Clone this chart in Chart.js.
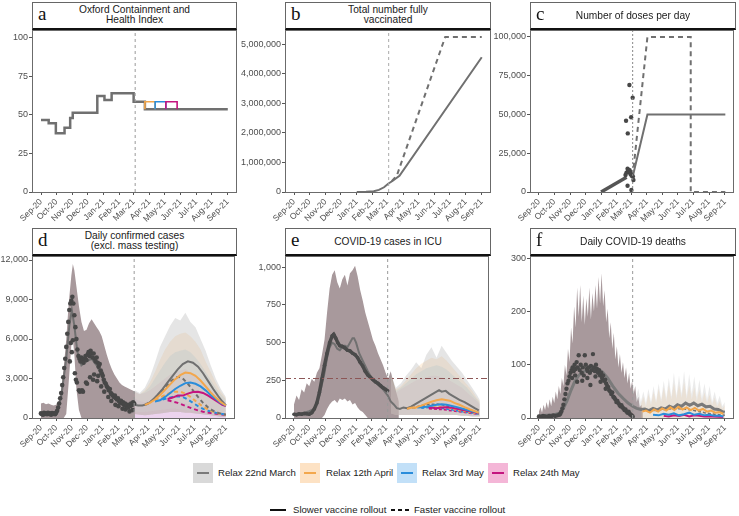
<!DOCTYPE html>
<html>
<head>
<meta charset="utf-8">
<script src="https://cdn.jsdelivr.net/npm/chart.js@4/dist/chart.umd.min.js"></script>
<style>
  body { margin: 0; background: #fff; width: 739px; height: 516px; position: relative; overflow: hidden;
         font-family: "Liberation Sans", Arial, Helvetica, sans-serif; }
  canvas { position: absolute; }
  .strip { position: absolute; box-sizing: border-box; height: 28px; border: 1px solid #666;
           border-bottom: 2px solid #111; background: #fff; }
  .strip .tag { position: absolute; left: 5px; top: -1px; font-family: "Liberation Serif", "DejaVu Serif", serif;
                font-size: 19px; line-height: 24px; color: #111; }
  .strip .ttl { position: absolute; left: 0; right: 0; top: 50%; transform: translateY(-50%); text-align: center;
                font-size: 10.2px; line-height: 10.8px; color: #1a1a1a; }
  .kbox { position: absolute; top: 463px; width: 20px; height: 20px; }
  .kbox i { position: absolute; left: 4px; right: 4px; top: 9px; height: 2px; }
  .ktxt { position: absolute; font-size: 9.6px; line-height: 14px; color: #222; white-space: nowrap; }
  .seg { position: absolute; height: 2px; background: #111; }
</style>
</head>
<body>

<div class="strip" style="left:32px;top:2px;width:205px"><span class="tag">a</span><div class="ttl">Oxford Containment and<br>Health Index</div></div>
<div class="strip" style="left:285px;top:2px;width:206px"><span class="tag">b</span><div class="ttl">Total number fully<br>vaccinated</div></div>
<div class="strip" style="left:530px;top:2px;width:206px"><span class="tag">c</span><div class="ttl">Number of doses per day</div></div>
<div class="strip" style="left:32px;top:228px;width:205px"><span class="tag">d</span><div class="ttl">Daily confirmed cases<br>(excl. mass testing)</div></div>
<div class="strip" style="left:285px;top:228px;width:206px"><span class="tag">e</span><div class="ttl">COVID-19 cases in ICU</div></div>
<div class="strip" style="left:530px;top:228px;width:206px"><span class="tag">f</span><div class="ttl">Daily COVID-19 deaths</div></div>

<div class="kbox" style="left:193px;background:#d9d9d9"><i style="background:#7a7a7a"></i></div>
<div class="ktxt" style="left:218px;top:466px">Relax 22nd March</div>
<div class="kbox" style="left:300px;background:#fde2c4"><i style="background:#f3a74c"></i></div>
<div class="ktxt" style="left:326px;top:466px">Relax 12th April</div>
<div class="kbox" style="left:397px;background:#c2e0f8"><i style="background:#2a8ddb"></i></div>
<div class="ktxt" style="left:422px;top:466px">Relax 3rd May</div>
<div class="kbox" style="left:488px;background:#f4b6d7"><i style="background:#c4157f"></i></div>
<div class="ktxt" style="left:513px;top:466px">Relax 24th May</div>

<div class="seg" style="left:270px;top:509px;width:16px"></div>
<div class="ktxt" style="left:293px;top:503px">Slower vaccine rollout</div>
<div class="seg" style="left:391px;top:509px;width:4px"></div>
<div class="seg" style="left:398px;top:509px;width:4px"></div>
<div class="seg" style="left:405px;top:509px;width:4px"></div>
<div class="ktxt" style="left:414px;top:503px">Faster vaccine rollout</div>

<script>
// ---------- Ось времени (дни от 1 сентября 2020) ----------
const monthDays = [0, 30, 61, 91, 122, 153, 181, 212, 242, 273, 303, 334, 365];
const monthLabels = ["Sep-20", "Oct-20", "Nov-20", "Dec-20", "Jan-21", "Feb-21", "Mar-21",
  "Apr-21", "May-21", "Jun-21", "Jul-21", "Aug-21", "Sep-21"];
const relaxDay = 184;

// ---------- a: Oxford index ----------
const oxDays = [0, 15, 15, 29, 29, 46, 46, 57, 57, 62, 62, 110, 110, 124, 124, 138, 138, 181, 181, 203, 203, 365];
const oxVals = [46.7, 46.7, 44.5, 44.5, 38, 38, 41.7, 41.7, 48, 48, 51.4, 51.4, 62.2, 62.2, 59.6, 59.6, 64, 64, 58.5, 58.5, 53.6, 53.6];
const oxApril = [[203, 53.6], [203, 58.5], [223, 58.5], [223, 53.6]];
const oxMay3 = [[223, 53.6], [223, 58.5], [244, 58.5], [244, 53.6]];
const oxMay24 = [[244, 53.6], [244, 58.5], [266, 58.5], [266, 53.6]];

// ---------- b: fully vaccinated ----------
const vaxSlow = [[122, 0], [140, 5000], [155, 25000], [165, 70000], [175, 160000], [183, 280000], [192, 380000], [205, 550000], [365, 4560000]];
const vaxFast = [[190, 370000], [200, 560000], [294, 5250000], [365, 5250000]];

// ---------- c: doses per day ----------
const dosesObsLine = [[122, 0], [172, 9500]];
const dosesDots = [[171, 46000], [174.4, 37800], [177.6, 69000], [181, 48200], [184, 60800], [170, 11000], [172, 12500],
  [174, 15000], [175, 13500], [176, 14200], [177, 12800], [178, 14000], [179, 13000], [180, 11500], [182, 10500],
  [184.5, 10000], [185.5, 7700], [174, 4000], [181.5, 1300]];
const dosesSlow = [[184, 9900], [213, 50000], [366, 50000]];
const dosesFast = [[184, 9900], [213, 100000], [298, 100000], [298, 0], [366, 0]];

// ---------- d: daily cases ----------
const casesObs = [[0, 350], [2, 300], [4, 250], [6, 400], [8, 300], [10, 350], [12, 280], [14, 400], [16, 300], [18, 350],
  [20, 250], [22, 380], [24, 300], [26, 350], [28, 280], [30, 400], [32, 550], [34, 800], [36, 1100], [38, 1500],
  [40, 1900], [42, 2500], [44, 3100], [46, 3800], [48, 4500], [50, 5400], [52, 6400], [54, 7300], [56, 8200], [58, 8700],
  [60, 8900], [62, 9200], [64, 8700], [66, 7800], [68, 6900], [70, 6000], [72, 5200], [74, 4700], [76, 4500], [78, 4300],
  [80, 4600], [82, 4400], [84, 4200], [86, 4500], [88, 4700], [90, 4400], [92, 4800], [94, 5000], [96, 4700], [98, 5100],
  [100, 4900], [102, 4600], [104, 4900], [106, 4500], [108, 4300], [110, 4600], [112, 4200], [114, 3900], [116, 4100],
  [118, 3600], [120, 3400], [122, 3200], [124, 2900], [126, 2700], [128, 2600], [130, 2400], [132, 2300], [134, 2100],
  [136, 2200], [138, 1900], [140, 1800], [142, 1700], [144, 1600], [146, 1700], [148, 1500], [150, 1400], [152, 1500],
  [154, 1300], [156, 1200], [158, 1300], [160, 1100], [162, 1200], [164, 1000], [166, 1100], [168, 900], [170, 1000],
  [172, 800], [174, 1000], [176, 900], [178, 1100], [180, 1000], [182, 1200], [184, 1100]];
const casesObsLow = [[57, 4300], [59, 5700], [61, 5000], [63, 5900], [67, 3400], [69, 2900], [71, 2700], [75, 2100],
  [77, 2000], [81, 2100], [83, 2000], [89, 2700], [91, 2600], [97, 3100], [103, 2900], [105, 3300], [111, 2800],
  [113, 3200], [119, 2400], [125, 2000], [133, 1600], [139, 1300], [147, 1000], [153, 900], [161, 700], [167, 650],
  [175, 500], [181, 600]];
const casesBandDays = [0, 5, 10, 15, 20, 25, 30, 35, 40, 45, 50, 55, 60, 63, 66, 70, 75, 80, 85, 90, 95, 100, 105, 110,
  115, 120, 125, 130, 135, 140, 145, 150, 155, 160, 165, 170, 175, 180, 186];
const casesBandHi = [1100, 1150, 1050, 1100, 1000, 950, 1000, 1300, 2200, 3800, 6000, 8800, 10800, 11700, 11200, 10000,
  8500, 7300, 6600, 6700, 7200, 7500, 7200, 6900, 6600, 6200, 5500, 4800, 4200, 3700, 3300, 3000, 2700, 2500, 2400,
  2300, 2200, 2100, 2000];
const casesBandLo = [0, 0, 0, 0, 0, 0, 0, 0, 0, 0, 300, 2800, 5500, 6000, 4800, 2200, 600, 0, 0, 0, 0, 0, 0, 0, 0, 0,
  0, 0, 0, 0, 0, 0, 0, 0, 0, 0, 0, 0, 0];
const casesGray = [[0, 300], [30, 350], [40, 1600], [50, 4500], [56, 7000], [61, 8200], [66, 7000], [72, 5000], [80, 4000],
  [90, 4300], [100, 4500], [110, 4000], [120, 3200], [130, 2300], [140, 1800], [150, 1400], [160, 1150], [170, 1000],
  [184, 1000], [192, 950], [200, 950], [210, 1050], [220, 1350], [230, 1750], [240, 2200], [250, 2700], [260, 3200],
  [270, 3700], [280, 4100], [290, 4300], [300, 4200], [310, 3900], [320, 3400], [330, 2800], [340, 2200], [350, 1650],
  [358, 1250], [365, 950]];
const casesApril = [[205, 1000], [215, 1150], [225, 1400], [235, 1750], [245, 2150], [255, 2550], [265, 2950], [275, 3250],
  [285, 3450], [295, 3400], [305, 3200], [315, 2850], [325, 2400], [335, 1950], [345, 1550], [355, 1200], [365, 950]];
const casesMay3 = [[225, 1250], [235, 1350], [245, 1600], [255, 1900], [265, 2200], [275, 2450], [285, 2650], [295, 2700],
  [305, 2600], [315, 2400], [325, 2100], [335, 1750], [345, 1450], [355, 1150], [365, 950]];
const casesMay24 = [[250, 1450], [260, 1550], [270, 1700], [280, 1700], [290, 1850], [300, 1980], [310, 2000], [320, 1900],
  [330, 1700], [340, 1450], [350, 1200], [358, 1000], [365, 900]];
const casesGrayFast = [[205, 1000], [215, 1200], [225, 1500], [235, 1900], [245, 2350], [255, 2750], [265, 3050], [272, 3120],
  [280, 3000], [290, 2600], [300, 2100], [310, 1600], [320, 1150], [330, 800], [340, 550], [350, 380], [365, 250]];
const casesAprilFast = [[225, 1350], [235, 1550], [245, 1750], [255, 1900], [265, 2000], [275, 2000], [285, 1850], [295, 1600],
  [305, 1300], [315, 1000], [325, 750], [335, 550], [345, 400], [355, 300], [365, 250]];
const casesMay3Fast = [[240, 1400], [250, 1500], [260, 1600], [270, 1650], [280, 1600], [290, 1400], [300, 1150], [310, 900],
  [320, 700], [330, 550], [345, 400], [365, 250]];
const casesMay24Fast = [[250, 1350], [260, 1250], [270, 1150], [280, 1000], [290, 850], [300, 700], [310, 580], [320, 470],
  [335, 380], [350, 300], [365, 240]];
const scenDays = [185, 195, 205, 215, 225, 235, 245, 255, 265, 275, 285, 295, 305, 315, 325, 335, 345, 355, 365];
const casesScenGrayHi = [2100, 1900, 2300, 3100, 4200, 5400, 6200, 7000, 7600, 7400, 8000, 7300, 6900, 6000, 5100, 4000, 3000, 2200, 1600];
const casesScenAprilHi = [2000, 1800, 2100, 2700, 3500, 4400, 5200, 5800, 6200, 6400, 6500, 6200, 5800, 5200, 4300, 3500, 2700, 2000, 1500];
const casesScenMay3Hi = [2000, 1800, 2000, 2400, 3000, 3600, 4200, 4700, 5000, 5100, 5200, 5000, 4600, 4100, 3500, 2900, 2300, 1800, 1400];
const casesScenMay24Hi = [2000, 1800, 1900, 2100, 2400, 2700, 3000, 3300, 3500, 3600, 3700, 3500, 3300, 2900, 2600, 2200, 1800, 1500, 1200];
const casesScenLo = [300, 250, 200, 250, 300, 350, 400, 450, 450, 450, 400, 400, 350, 300, 250, 200, 150, 100, 80];
const casesScenZero = [0, 0, 0, 0, 0, 0, 0, 0, 0, 0, 0, 0, 0, 0, 0, 0, 0, 0, 0];
const casesScenFastHi = [1500, 1300, 1200, 1300, 1400, 1500, 1500, 1400, 1300, 1200, 1100, 1000, 900, 800, 700, 600, 500, 400, 300];
const casesScenPinkHi = [500, 450, 450, 500, 550, 600, 650, 700, 700, 650, 600, 550, 500, 450, 400, 350, 300, 250, 200];

// ---------- e: ICU ----------
const icuObs = [[0, 25], [5, 22], [10, 28], [15, 25], [20, 30], [25, 28], [30, 25], [35, 35], [40, 60], [45, 100], [50, 170],
  [55, 260], [60, 350], [65, 430], [70, 500], [75, 545], [78, 555], [82, 530], [86, 500], [90, 480], [95, 475], [100, 465],
  [105, 450], [110, 445], [115, 430], [120, 420], [125, 400], [130, 370], [135, 345], [140, 310], [145, 285], [150, 270],
  [155, 255], [160, 240], [165, 230], [170, 215], [175, 200], [180, 190], [184, 180]];
const icuBandDays = [0, 5, 10, 15, 20, 25, 30, 35, 40, 45, 50, 55, 60, 65, 70, 75, 80, 85, 90, 95, 100, 105, 110, 115, 120,
  125, 130, 135, 140, 145, 150, 155, 160, 165, 170, 175, 180, 185, 190, 195, 200, 206];
const icuBandHi = [90, 150, 120, 190, 170, 230, 210, 260, 240, 300, 330, 420, 520, 700, 860, 950, 980, 900, 860, 920, 950,
  880, 960, 980, 1010, 940, 850, 780, 700, 640, 580, 520, 480, 430, 390, 350, 300, 260, 310, 240, 180, 110];
const icuBandLo = [0, 0, 0, 0, 0, 0, 0, 0, 0, 0, 0, 0, 20, 60, 90, 110, 120, 100, 130, 120, 130, 110, 120, 90, 100, 70, 50,
  40, 20, 0, 0, 0, 0, 0, 0, 0, 0, 0, 0, 0, 0, 0];
const icuGray = [[0, 20], [10, 25], [20, 35], [30, 45], [40, 60], [50, 150], [60, 300], [65, 400], [70, 470], [75, 500],
  [80, 490], [85, 460], [90, 450], [95, 470], [100, 480], [105, 470], [110, 500], [115, 530], [118, 530], [122, 500],
  [128, 430], [135, 380], [145, 310], [155, 250], [165, 220], [175, 190], [184, 150], [190, 110], [196, 90], [202, 65],
  [208, 60], [215, 70], [222, 65], [230, 75], [240, 95], [250, 115], [260, 135], [270, 155], [280, 175], [285, 185],
  [290, 175], [298, 180], [305, 160], [315, 140], [325, 120], [335, 105], [345, 85], [355, 65], [363, 50]];
const icuApril = [[222, 62], [230, 68], [240, 72], [250, 82], [260, 95], [270, 108], [280, 118], [290, 125], [298, 120],
  [306, 115], [315, 100], [325, 88], [335, 72], [345, 58], [355, 45], [363, 35]];
const icuMay3 = [[242, 70], [250, 72], [260, 75], [270, 82], [280, 88], [290, 92], [300, 88], [310, 80], [320, 72], [335, 58],
  [350, 45], [363, 35]];
const icuMay24 = [[264, 72], [272, 68], [280, 65], [290, 70], [300, 72], [310, 68], [320, 62], [335, 52], [350, 42], [363, 32]];
const icuGrayFast = [[222, 62], [235, 70], [250, 82], [265, 90], [280, 92], [295, 85], [310, 72], [325, 58], [340, 45], [355, 35], [363, 30]];
const icuAprilFast = [[235, 65], [250, 72], [265, 78], [280, 80], [295, 72], [310, 62], [325, 50], [340, 40], [355, 32], [363, 28]];
const icuMay3Fast = [[250, 65], [265, 70], [280, 68], [295, 62], [310, 55], [325, 45], [340, 38], [355, 30], [363, 25]];
const icuMay24Fast = [[265, 62], [280, 58], [295, 55], [310, 48], [325, 42], [340, 35], [355, 28], [363, 25]];
const icuScenDays = [190, 200, 210, 220, 230, 240, 250, 260, 270, 280, 290, 300, 310, 320, 330, 340, 350, 360, 365];
const icuScenGrayHi = [300, 200, 230, 280, 320, 370, 330, 420, 470, 400, 480, 430, 380, 340, 300, 250, 200, 150, 120];
const icuScenAprilHi = [280, 190, 210, 250, 290, 330, 360, 380, 400, 390, 410, 380, 340, 300, 260, 220, 180, 130, 110];
const icuScenMay3Hi = [270, 180, 200, 230, 260, 290, 310, 330, 340, 350, 340, 320, 290, 260, 230, 200, 160, 120, 100];
const icuScenMay24Hi = [260, 170, 190, 210, 230, 250, 260, 270, 280, 280, 270, 260, 240, 220, 200, 170, 140, 110, 90];
const icuScenLo = [30, 20, 20, 20, 20, 20, 20, 20, 20, 20, 20, 20, 20, 20, 15, 15, 10, 10, 10];
const icuCapacity = 262;

// ---------- f: deaths ----------
const deathsBand = [[0, 12], [3, 20], [6, 10], [9, 25], [12, 15], [15, 30], [18, 18], [21, 35], [24, 22], [27, 40], [30, 28],
  [33, 50], [36, 35], [39, 60], [42, 45], [45, 75], [48, 60], [51, 100], [54, 80], [57, 130], [60, 105], [63, 170], [66, 140],
  [69, 210], [72, 170], [75, 245], [78, 190], [81, 250], [84, 180], [87, 230], [90, 175], [93, 225], [96, 190], [99, 245],
  [102, 185], [105, 235], [108, 200], [111, 250], [114, 205], [117, 265], [120, 215], [123, 272], [126, 210], [129, 240],
  [132, 180], [135, 205], [138, 150], [141, 180], [144, 130], [147, 160], [150, 110], [153, 135], [156, 95], [159, 120],
  [162, 85], [165, 105], [168, 75], [171, 95], [174, 65], [177, 85], [180, 55], [183, 70], [186, 45], [189, 60], [192, 30],
  [195, 40], [198, 20], [201, 25], [204, 10]];
const deathsObs = [[0, 3], [4, 2], [8, 4], [12, 3], [16, 2], [20, 4], [24, 3], [28, 5], [32, 4], [36, 5], [40, 6], [42, 8],
  [44, 12], [46, 18], [48, 25], [50, 35], [52, 45], [54, 55], [56, 65], [58, 70], [60, 78], [62, 85], [64, 90], [66, 95],
  [68, 88], [70, 100], [72, 92], [74, 105], [76, 95], [78, 118], [80, 90], [82, 100], [84, 85], [86, 95], [88, 80], [90, 118],
  [92, 100], [94, 92], [96, 88], [98, 95], [100, 85], [102, 98], [104, 90], [106, 120], [108, 95], [110, 88], [112, 100],
  [114, 92], [116, 85], [118, 90], [120, 80], [122, 85], [124, 75], [126, 80], [128, 70], [130, 72], [132, 65], [134, 60],
  [136, 58], [138, 52], [140, 50], [142, 45], [144, 48], [146, 40], [148, 38], [150, 35], [152, 30], [154, 32], [156, 28],
  [158, 25], [160, 22], [162, 24], [164, 20], [166, 18], [168, 15], [170, 16], [172, 12], [174, 10], [176, 12], [178, 8],
  [180, 6], [182, 5], [184, 3], [65, 75], [71, 80], [75, 68], [85, 70], [95, 75], [101, 62], [111, 78], [121, 68], [131, 55]];
const deathsGray = [[0, 4], [15, 5], [30, 6], [40, 9], [48, 18], [55, 32], [62, 50], [70, 68], [78, 80], [86, 86], [95, 90],
  [105, 93], [115, 92], [125, 86], [135, 75], [145, 60], [155, 47], [165, 37], [175, 28], [184, 22], [192, 18], [200, 16],
  [208, 17], [216, 14], [224, 18], [232, 15], [240, 19], [248, 17], [256, 22], [264, 19], [272, 25], [280, 22], [288, 28],
  [296, 24], [304, 28], [312, 23], [320, 26], [328, 21], [336, 22], [344, 17], [352, 16], [360, 12], [365, 11]];
const deathsApril = [[203, 12], [210, 14], [218, 10], [226, 16], [234, 12], [242, 18], [250, 14], [258, 20], [266, 15], [274, 21],
  [282, 16], [290, 20], [298, 15], [306, 19], [314, 14], [322, 17], [330, 12], [338, 14], [346, 10], [354, 11], [362, 8]];
const deathsMay3 = [[224, 6], [235, 5], [245, 8], [255, 6], [265, 9], [275, 5], [285, 7], [295, 10], [305, 6], [315, 8], [325, 5],
  [335, 6], [345, 4], [355, 4], [362, 3]];
const deathsMay24 = [[245, 4], [255, 3], [265, 5], [275, 4], [285, 6], [295, 3], [305, 5], [315, 4], [325, 3], [340, 3], [362, 2]];
const deathsGrayFast = [[205, 15], [225, 14], [245, 16], [265, 18], [285, 17], [305, 14], [325, 10], [345, 7], [365, 5]];
const deathsScenGray = [[185, 60], [190, 35], [195, 55], [200, 30], [205, 50], [210, 28], [215, 55], [220, 30], [225, 60],
  [230, 32], [235, 65], [240, 35], [245, 70], [250, 38], [255, 75], [260, 40], [265, 85], [270, 42], [275, 80], [280, 45],
  [285, 88], [290, 42], [295, 82], [300, 45], [305, 78], [310, 40], [315, 72], [320, 38], [325, 65], [330, 35], [335, 60],
  [340, 30], [345, 50], [350, 28], [355, 42], [360, 22], [365, 30]];
const deathsScenApril = [[200, 25], [205, 40], [210, 22], [215, 45], [220, 25], [225, 50], [230, 28], [235, 55], [240, 30],
  [245, 58], [250, 32], [255, 62], [260, 35], [265, 66], [270, 36], [275, 64], [280, 38], [285, 68], [290, 36], [295, 62],
  [300, 35], [305, 58], [310, 32], [315, 54], [320, 30], [325, 48], [330, 28], [335, 44], [340, 25], [345, 38], [350, 22],
  [355, 32], [360, 18], [365, 24]];

// ---------- Общие настройки ----------
const FONT = '"Liberation Sans", Arial, Helvetica, sans-serif';
const X_MIN = -17.6, X_MAX = 383;
const GRAY = "#707070", ORANGE = "#f3a74c", BLUE = "#2a8ddb", MAGENTA = "#c4157f";
const MAUVE = "#a8999c", DOT = "#474747";

const pts = (pairs) => pairs.map((p) => ({ x: p[0], y: p[1] }));
const zip = (days, vals) => days.map((d, i) => ({ x: d, y: vals[i] }));

function line(pairs, color, width, dash, order) {
  return { data: pts(pairs), borderColor: color, borderWidth: width, borderDash: dash || [],
           pointRadius: 0, fill: false, order: order == null ? 10 : order };
}
function dots(pairs, color, r) {
  return { data: pts(pairs), showLine: false, pointRadius: r, pointBackgroundColor: color,
           pointBorderWidth: 0, borderColor: color, order: 4 };
}
function band(days, lo, hi, color, order) {
  return [
    { data: zip(days, lo), borderWidth: 0, pointRadius: 0, fill: false, order },
    { data: zip(days, hi), borderWidth: 0, pointRadius: 0, fill: "-1", backgroundColor: color, order },
  ];
}
function areaPairs(pairs, color, order) {
  return { data: pts(pairs), borderWidth: 0, pointRadius: 0, fill: "origin", backgroundColor: color, order };
}
function vline(yMax, color, dash) {
  return { data: [{ x: relaxDay, y: 0 }, { x: relaxDay, y: yMax }], borderColor: color, borderWidth: 1,
           borderDash: dash, pointRadius: 0, fill: false, order: 3 };
}

const frame = {
  id: "frame",
  afterDraw(chart) {
    const a = chart.chartArea, ctx = chart.ctx;
    ctx.save();
    ctx.strokeStyle = "#6b6b6b";
    ctx.lineWidth = 1;
    ctx.strokeRect(a.left + 0.5, a.top + 0.5, a.right - a.left - 1, a.bottom - a.top);
    ctx.restore();
  },
};

// панель: область графика L..R, T..B в пикселях страницы
function makePanel(box, yMax, yTicks, datasets) {
  const TOP = 8, XH = 40;
  const cv = document.createElement("canvas");
  const w = box.yW + (box.R - box.L) + 2;
  const h = TOP + (box.B - box.T) + XH;
  cv.width = w; cv.height = h;
  cv.style.left = (box.L - box.yW) + "px";
  cv.style.top = (box.T - TOP) + "px";
  document.body.insertBefore(cv, document.body.firstChild);

  new Chart(cv, {
    type: "line",
    data: { datasets },
    plugins: [frame],
    options: {
      responsive: false,
      animation: false,
      layout: { padding: { top: TOP, right: 2, left: 0, bottom: 0 } },
      plugins: { legend: { display: false }, tooltip: { enabled: false } },
      elements: { line: { tension: 0 } },
      scales: {
        x: {
          type: "linear", min: X_MIN, max: X_MAX,
          afterBuildTicks: (s) => { s.ticks = monthDays.map((v) => ({ value: v })); },
          afterFit: (s) => { s.height = XH; s.paddingLeft = 0; s.paddingRight = 0; },
          ticks: { autoSkip: false, minRotation: 45, maxRotation: 45, padding: 2, color: "#4d4d4d",
                   font: { size: 8.5, family: FONT }, callback: (v, i) => monthLabels[i] },
          grid: { display: true, drawOnChartArea: false, drawTicks: true, tickLength: 3, color: "#555" },
          border: { display: false },
        },
        y: {
          min: 0, max: yMax,
          afterBuildTicks: (s) => { s.ticks = yTicks.map((v) => ({ value: v })); },
          afterFit: (s) => { s.width = box.yW; s.paddingTop = 0; s.paddingBottom = 0; },
          ticks: { padding: 1, color: "#4d4d4d", font: { size: 9, family: FONT },
                   callback: (v) => v.toLocaleString("en-US") },
          grid: { display: true, drawOnChartArea: false, drawTicks: true, tickLength: 3, color: "#555" },
          border: { display: false },
        },
      },
    },
  });
}

// ---------- a ----------
makePanel({ L: 32, T: 30, R: 237, B: 192, yW: 32 }, 105, [0, 25, 50, 75, 100], [
  vline(105, "#9a9a9a", [3, 3]),
  { data: zip(oxDays, oxVals), borderColor: GRAY, borderWidth: 2.5, pointRadius: 0, fill: false, order: 10 },
  line(oxApril, ORANGE, 1.6, null, 9),
  line(oxMay3, BLUE, 1.6, null, 8),
  line(oxMay24, MAGENTA, 1.6, null, 7),
]);

// ---------- b ----------
makePanel({ L: 285, T: 30, R: 491, B: 192, yW: 47 }, 5484000, [0, 1000000, 2000000, 3000000, 4000000, 5000000], [
  vline(5484000, "#aaaaaa", [3, 3]),
  line(vaxSlow, GRAY, 2, null, 10),
  line(vaxFast, GRAY, 2, [5, 4], 10),
]);

// ---------- c ----------
makePanel({ L: 530, T: 30, R: 736, B: 192, yW: 40 }, 104500, [0, 25000, 50000, 75000, 100000], [
  vline(104500, "#888888", [2, 2]),
  line(dosesObsLine, "#555555", 3.5, null, 9),
  dots(dosesDots, DOT, 2.2),
  line(dosesSlow, GRAY, 2, null, 10),
  line(dosesFast, GRAY, 2, [5, 4], 10),
]);

// ---------- d ----------
makePanel({ L: 32, T: 256, R: 237, B: 418, yW: 32 }, 12304, [0, 3000, 6000, 9000, 12000], [
  ...band(casesBandDays, casesBandLo, casesBandHi, MAUVE, 40),
  ...band(scenDays, casesScenLo, casesScenGrayHi, "rgba(175,175,175,0.32)", 30),
  ...band(scenDays, casesScenLo, casesScenAprilHi, "rgba(252,196,130,0.26)", 30),
  ...band(scenDays, casesScenLo, casesScenMay3Hi, "rgba(140,200,245,0.26)", 30),
  ...band(scenDays, casesScenLo, casesScenMay24Hi, "rgba(235,140,195,0.22)", 30),
  ...band(scenDays, casesScenZero, casesScenFastHi, "rgba(200,180,235,0.3)", 30),
  ...band(scenDays, casesScenZero, casesScenPinkHi, "rgba(245,170,210,0.35)", 30),
  vline(12304, "#9a9a9a", [3, 3]),
  line(casesGray, GRAY, 2, null, 12),
  dots(casesObs, DOT, 2.3),
  dots(casesObsLow, DOT, 2.3),
  line(casesGrayFast, GRAY, 2, [4, 3], 11),
  line(casesAprilFast, ORANGE, 2, [4, 3], 11),
  line(casesMay3Fast, BLUE, 2, [4, 3], 11),
  line(casesMay24Fast, MAGENTA, 2, [4, 3], 11),
  line(casesApril, ORANGE, 2, null, 10),
  line(casesMay3, BLUE, 2, null, 10),
  line(casesMay24, MAGENTA, 2, null, 10),
]);

// ---------- e ----------
makePanel({ L: 285, T: 256, R: 491, B: 418, yW: 45 }, 1075, [0, 250, 500, 750, 1000], [
  ...band(icuBandDays, icuBandLo, icuBandHi, MAUVE, 40),
  ...band(icuScenDays, icuScenLo, icuScenGrayHi, "rgba(175,175,175,0.32)", 30),
  ...band(icuScenDays, icuScenLo, icuScenAprilHi, "rgba(252,196,130,0.26)", 30),
  ...band(icuScenDays, icuScenLo, icuScenMay3Hi, "rgba(140,200,245,0.26)", 30),
  ...band(icuScenDays, icuScenLo, icuScenMay24Hi, "rgba(235,140,195,0.22)", 30),
  vline(1075, "#9a9a9a", [3, 3]),
  { data: [{ x: X_MIN, y: icuCapacity }, { x: X_MAX, y: icuCapacity }], borderColor: "#8c5656", borderWidth: 1.2,
    borderDash: [6, 3, 2, 3], pointRadius: 0, fill: false, order: 2 },
  line(icuGray, GRAY, 2, null, 12),
  line(icuGrayFast, GRAY, 1.6, [3, 2], 11),
  line(icuAprilFast, ORANGE, 1.6, [3, 2], 11),
  line(icuMay3Fast, BLUE, 1.6, [3, 2], 11),
  line(icuMay24Fast, MAGENTA, 1.6, [3, 2], 11),
  line(icuApril, ORANGE, 2, null, 10),
  line(icuMay3, BLUE, 2, null, 10),
  line(icuMay24, MAGENTA, 2, null, 10),
  { ...line(icuObs, "#4a4a4a", 3.5, null, 5), pointRadius: 1.8, pointBackgroundColor: "#4a4a4a", pointBorderWidth: 0 },
]);

// ---------- f ----------
makePanel({ L: 530, T: 256, R: 736, B: 418, yW: 40 }, 304.3, [0, 100, 200, 300], [
  areaPairs(deathsBand, MAUVE, 40),
  areaPairs(deathsScenGray, "rgba(175,175,175,0.25)", 30),
  areaPairs(deathsScenApril, "rgba(252,196,130,0.22)", 30),
  vline(304.3, "#9a9a9a", [3, 3]),
  line(deathsGray, "#7a7a7a", 3, null, 12),
  line(deathsGrayFast, GRAY, 1.5, [3, 2], 11),
  line(deathsApril, ORANGE, 2, null, 10),
  line(deathsMay3, BLUE, 2, null, 10),
  line(deathsMay24, MAGENTA, 2, null, 10),
  dots(deathsObs, DOT, 2.2),
]);
</script>
</body>
</html>
